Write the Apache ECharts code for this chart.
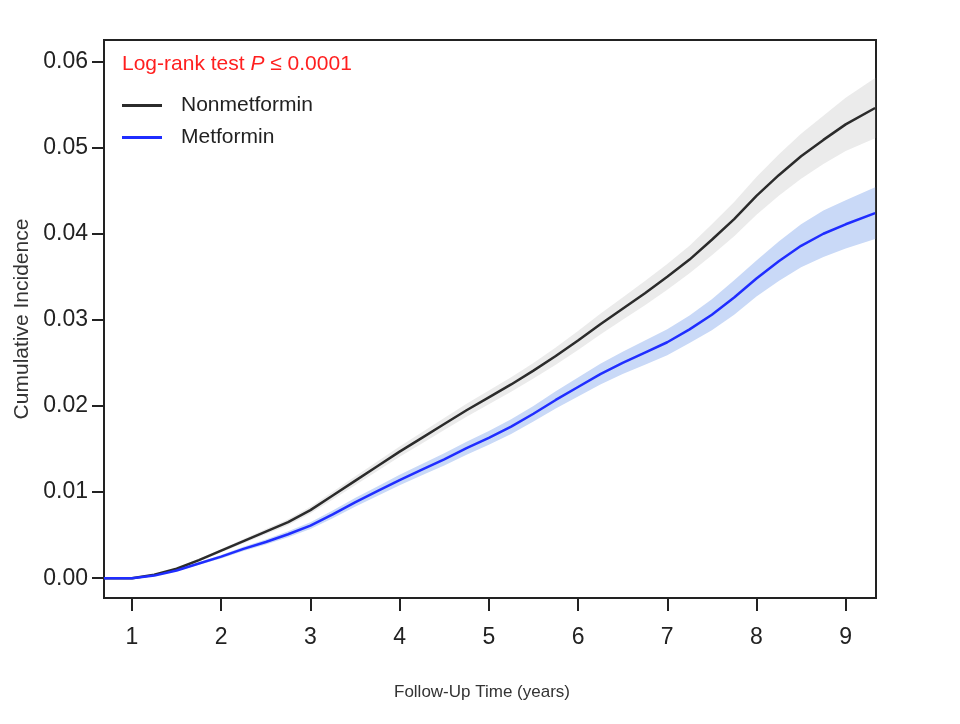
<!DOCTYPE html>
<html>
<head>
<meta charset="utf-8">
<script src="https://cdn.jsdelivr.net/npm/echarts@6/dist/echarts.min.js"></script>
<style>html,body{margin:0;padding:0;background:#fff}#c{width:960px;height:724px}</style>
</head>
<body>
<div id="c"></div>
<script>
// Follow-up time grid (years)
const years = [0.686,1.0,1.25,1.5,1.75,2.0,2.25,2.5,2.75,3.0,3.25,3.5,3.75,4.0,4.25,4.5,4.75,5.0,5.25,5.5,5.75,6.0,6.25,6.5,6.75,7.0,7.25,7.5,7.75,8.0,8.25,8.5,8.75,9.0,9.33];
// Cumulative incidence, Nonmetformin
const nonMetformin = [0,0,0.0004,0.0011,0.0021,0.0032,0.0043,0.0054,0.0065,0.0079,0.0096,0.0113,0.0130,0.0147,0.0163,0.0179,0.0195,0.0210,0.0225,0.0241,0.0258,0.0276,0.0295,0.0313,0.0331,0.0350,0.0370,0.0393,0.0417,0.0444,0.0468,0.0490,0.0509,0.0527,0.0546];
// Cumulative incidence, Metformin
const metformin = [0,0,0.0003,0.0009,0.0017,0.0025,0.0034,0.0042,0.0051,0.0061,0.0074,0.0088,0.0101,0.0114,0.0126,0.0138,0.0151,0.0163,0.0176,0.0191,0.0207,0.0222,0.0237,0.0250,0.0262,0.0274,0.0289,0.0306,0.0326,0.0348,0.0368,0.0386,0.0400,0.0411,0.0424];
// Confidence band half-widths
const nonMetforminCI = [0,0,0.00005,0.0001,0.00015,0.0002,0.00025,0.0003,0.00035,0.0004,0.00045,0.0005,0.00055,0.0006,0.00065,0.0007,0.00075,0.0008,0.00085,0.0009,0.001,0.0011,0.0012,0.0013,0.0014,0.0015,0.0016,0.0018,0.002,0.0022,0.0024,0.0026,0.0028,0.0031,0.0035];
const metforminCI = [0,0,0.00005,0.0001,0.00015,0.0002,0.00025,0.0003,0.00035,0.0004,0.00045,0.0005,0.00055,0.0006,0.00065,0.0007,0.00075,0.0008,0.00085,0.0009,0.001,0.0011,0.0012,0.0013,0.0014,0.0015,0.0016,0.0018,0.002,0.0021,0.0023,0.0025,0.0027,0.0028,0.003];
// Tick values
const xTicks = [1,2,3,4,5,6,7,8,9];
const yTicks = [0,0.01,0.02,0.03,0.04,0.05,0.06];

const pairs = (ys) => years.map((x, i) => [x, ys[i]]);

function bandSeries(name, ys, ci, color, z) {
  return {
    name: name, type: 'custom', coordinateSystem: 'cartesian2d', silent: true, z: z, clip: true,
    data: [[years[0], ys[0]]],
    renderItem: function (params, api) {
      const pts = [];
      for (let i = 0; i < years.length; i++) pts.push(api.coord([years[i], ys[i] + ci[i]]));
      for (let i = years.length - 1; i >= 0; i--) pts.push(api.coord([years[i], ys[i] - ci[i]]));
      return {type: 'polygon', shape: {points: pts}, style: {fill: color, stroke: null}};
    }
  };
}

const chart = echarts.init(document.getElementById('c'), null, {renderer: 'canvas'});
const font = 'Liberation Sans, Arial, Helvetica, sans-serif';
chart.setOption({
  animation: false,
  backgroundColor: '#fff',
  title: {
    left: 117, top: 49,
    text: '{a|Log-rank test }{i|P}{a| ≤ 0.0001}',
    textStyle: {
      rich: {
        a: {color: '#ff1f1f', fontSize: 21, fontFamily: font, fontWeight: 'normal'},
        i: {color: '#ff1f1f', fontSize: 21, fontFamily: font, fontStyle: 'italic', fontWeight: 'normal'}
      }
    }
  },
  legend: {
    left: 117, top: 90, orient: 'vertical', itemGap: 11,
    itemWidth: 40, itemHeight: 3,
    data: [{name: 'Nonmetformin', icon: 'rect'}, {name: 'Metformin', icon: 'rect'}],
    textStyle: {fontSize: 21, color: '#222', fontFamily: font, padding: [0, 0, 0, 14]}
  },
  grid: {left: 104, right: 84, top: 40, bottom: 126, show: true, borderColor: '#222', borderWidth: 2, backgroundColor: 'transparent'},
  xAxis: {
    type: 'value', min: 0.686, max: 9.34,
    name: 'Follow-Up Time (years)', nameLocation: 'middle', nameGap: 86,
    nameTextStyle: {fontSize: 17, color: '#333', fontFamily: font, padding: [0, 16, 0, 0]},
    axisLine: {show: true, onZero: false, lineStyle: {color: '#222', width: 2}},
    axisTick: {show: true, length: 13, lineStyle: {color: '#222', width: 2}, customValues: xTicks},
    axisLabel: {fontSize: 23, color: '#222', margin: 28, fontFamily: font, customValues: xTicks},
    splitLine: {show: false}
  },
  yAxis: {
    type: 'value', min: -0.0023, max: 0.0625,
    name: 'Cumulative Incidence', nameLocation: 'middle', nameGap: 61, nameRotate: 90,
    nameTextStyle: {fontSize: 21, color: '#333', fontFamily: font},
    axisLine: {show: true, onZero: false, lineStyle: {color: '#222', width: 2}},
    axisTick: {show: true, length: 12, lineStyle: {color: '#222', width: 2}, customValues: yTicks},
    axisLabel: {fontSize: 23, color: '#222', margin: 16, fontFamily: font, customValues: yTicks,
      formatter: (v) => v.toFixed(2)},
    splitLine: {show: false}
  },
  series: [
    bandSeries('nmBand', nonMetformin, nonMetforminCI, '#ebebeb', 1),
    bandSeries('mBand', metformin, metforminCI, '#c9d9f7', 2),
    {name: 'Nonmetformin', type: 'line', data: pairs(nonMetformin), symbol: 'none', color: '#2b2b2b', lineStyle: {color: '#2b2b2b', width: 2.5}, z: 5},
    {name: 'Metformin', type: 'line', data: pairs(metformin), symbol: 'none', color: '#1f2dff', lineStyle: {color: '#1f2dff', width: 2.5}, z: 5}
  ]
});
</script>
</body>
</html>
